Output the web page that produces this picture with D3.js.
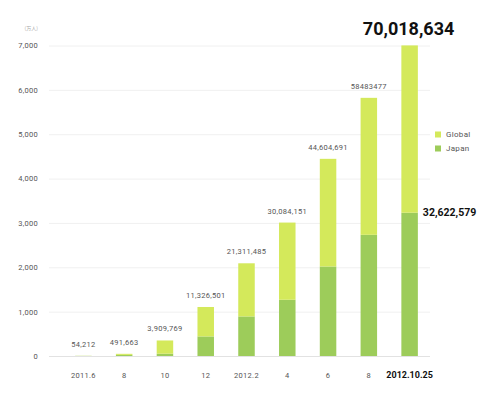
<!DOCTYPE html>
<html lang="en">
<head>
    <meta charset="UTF-8"/>
    <title>Users Chart</title>
    <script src="https://d3js.org/d3.v7.min.js"></script>
    <style>
        body { margin: 0; background: #fff; }
        text { font-family: Roboto, "DejaVu Sans", sans-serif; }
        .small { letter-spacing: 0.3px; }
    </style>
</head>
<body>
    <script>
        var w = 500;
        var h = 397;

        // data (unit: 10,000 people)
        var periods = ["2011.6", "8", "10", "12", "2012.2", "4", "6", "8 ", "2012.10.25"];
        var totalUsers = [5, 49, 350, 1105, 2090, 3008, 4445, 5820, 7002];
        var japanUsers = [3, 25, 52, 441, 892, 1268, 2018, 2732, 3230];
        var totalLabels = ["54,212", "491,663", "3,909,769", "11,326,501", "21,311,485",
                           "30,084,151", "44,604,691", "58483477", "70,018,634"];
        var japanLastLabel = "32,622,579";
        var yTicks = [0, 1000, 2000, 3000, 4000, 5000, 6000, 7000];
        var seriesNames = ["Global", "Japan"];

        var colors = { Global: "#d4e95b", Japan: "#9dcc5a" };

        var rows = periods.map(function(p, i) {
            return { period: p, Japan: japanUsers[i], Global: totalUsers[i] - japanUsers[i] };
        });

        var xScale = d3.scaleBand().domain(periods).range([63, 430]).padding(0);
        var yScale = d3.scaleLinear().domain([0, 7000]).range([356, 45.5]);
        var barW = 16.5;

        var svg = d3.select("body").append("svg")
            .attr("width", w)
            .attr("height", h);

        // gridlines
        svg.append("g").selectAll("line")
            .data(yTicks)
            .enter().append("line")
            .attr("x1", 49)
            .attr("x2", 430)
            .attr("y1", function(d) { return yScale(d) + 0.5; })
            .attr("y2", function(d) { return yScale(d) + 0.5; })
            .attr("stroke", function(d) { return d === 0 ? "#e2e2e2" : "#f0f0f0"; })
            .attr("stroke-width", 1);

        // y axis labels
        var yAxis = svg.append("g")
            .attr("transform", "translate(38,0)")
            .call(d3.axisLeft(yScale).tickValues(yTicks).tickSize(0).tickPadding(0).tickFormat(d3.format(",")));
        yAxis.select(".domain").remove();
        yAxis.selectAll("text")
            .attr("class", "small")
            .attr("fill", "#555")
            .style("font-size", "7.5px");

        svg.append("text")
            .attr("x", 38)
            .attr("y", 30)
            .attr("text-anchor", "end")
            .attr("fill", "#aaa")
            .style("font-size", "5px")
            .style("font-family", "'Noto Sans CJK JP', sans-serif")
            .text("(万人)");

        // stacked bars
        var stack = d3.stack().keys(["Japan", "Global"]);
        var layers = stack(rows);

        svg.append("g").selectAll("g")
            .data(layers)
            .enter().append("g")
            .attr("fill", function(d) { return colors[d.key]; })
            .selectAll("rect")
            .data(function(d) { return d; })
            .enter().append("rect")
            .attr("x", function(d) { return xScale(d.data.period) + (xScale.bandwidth() - barW) / 2; })
            .attr("width", barW)
            .attr("y", function(d) { return yScale(d[1]); })
            .attr("height", function(d) { return yScale(d[0]) - yScale(d[1]); });

        // value labels
        svg.append("g").selectAll("text")
            .data(periods.slice(0, periods.length - 1))
            .enter().append("text")
            .attr("class", "small")
            .attr("x", function(d) { return xScale(d) + xScale.bandwidth() / 2; })
            .attr("y", function(d, i) { return yScale(totalUsers[i]) - 9; })
            .attr("text-anchor", "middle")
            .attr("fill", "#555")
            .style("font-size", "7.5px")
            .text(function(d, i) { return totalLabels[i]; });

        var last = periods.length - 1;
        svg.append("text")
            .attr("x", xScale(periods[last]) + xScale.bandwidth() / 2 - 1)
            .attr("y", yScale(totalUsers[last]) - 10)
            .attr("text-anchor", "middle")
            .attr("fill", "#111")
            .style("font-size", "18px")
            .style("font-weight", "bold")
            .text(totalLabels[last]);

        svg.append("text")
            .attr("x", xScale(periods[last]) + xScale.bandwidth() / 2 + barW / 2 + 5)
            .attr("y", yScale(japanUsers[last]))
            .attr("dy", "0.35em")
            .attr("fill", "#111")
            .style("font-size", "10.5px")
            .style("font-weight", "bold")
            .text(japanLastLabel);

        // x labels
        svg.append("g").selectAll("text")
            .data(periods)
            .enter().append("text")
            .attr("class", function(d, i) { return i === last ? null : "small"; })
            .attr("x", function(d) { return xScale(d) + xScale.bandwidth() / 2; })
            .attr("y", 378)
            .attr("text-anchor", "middle")
            .attr("fill", function(d, i) { return i === last ? "#111" : "#555"; })
            .style("font-size", function(d, i) { return i === last ? "9px" : "7.5px"; })
            .style("font-weight", function(d, i) { return i === last ? "bold" : "normal"; })
            .text(function(d) { return d.trim(); });

        // legend
        var legend = svg.selectAll(".legend")
            .data(seriesNames)
            .enter().append("g")
            .attr("class", "legend")
            .attr("transform", function(d, i) { return "translate(435," + (131.5 + i * 14) + ")"; });

        legend.append("rect")
            .attr("width", 6)
            .attr("height", 6)
            .attr("fill", function(d) { return colors[d]; });

        legend.append("text")
            .attr("class", "small")
            .attr("x", 11)
            .attr("y", 3)
            .attr("dy", "0.35em")
            .attr("fill", "#555")
            .style("font-size", "8px")
            .text(function(d) { return d; });
    </script>
</body>
</html>
